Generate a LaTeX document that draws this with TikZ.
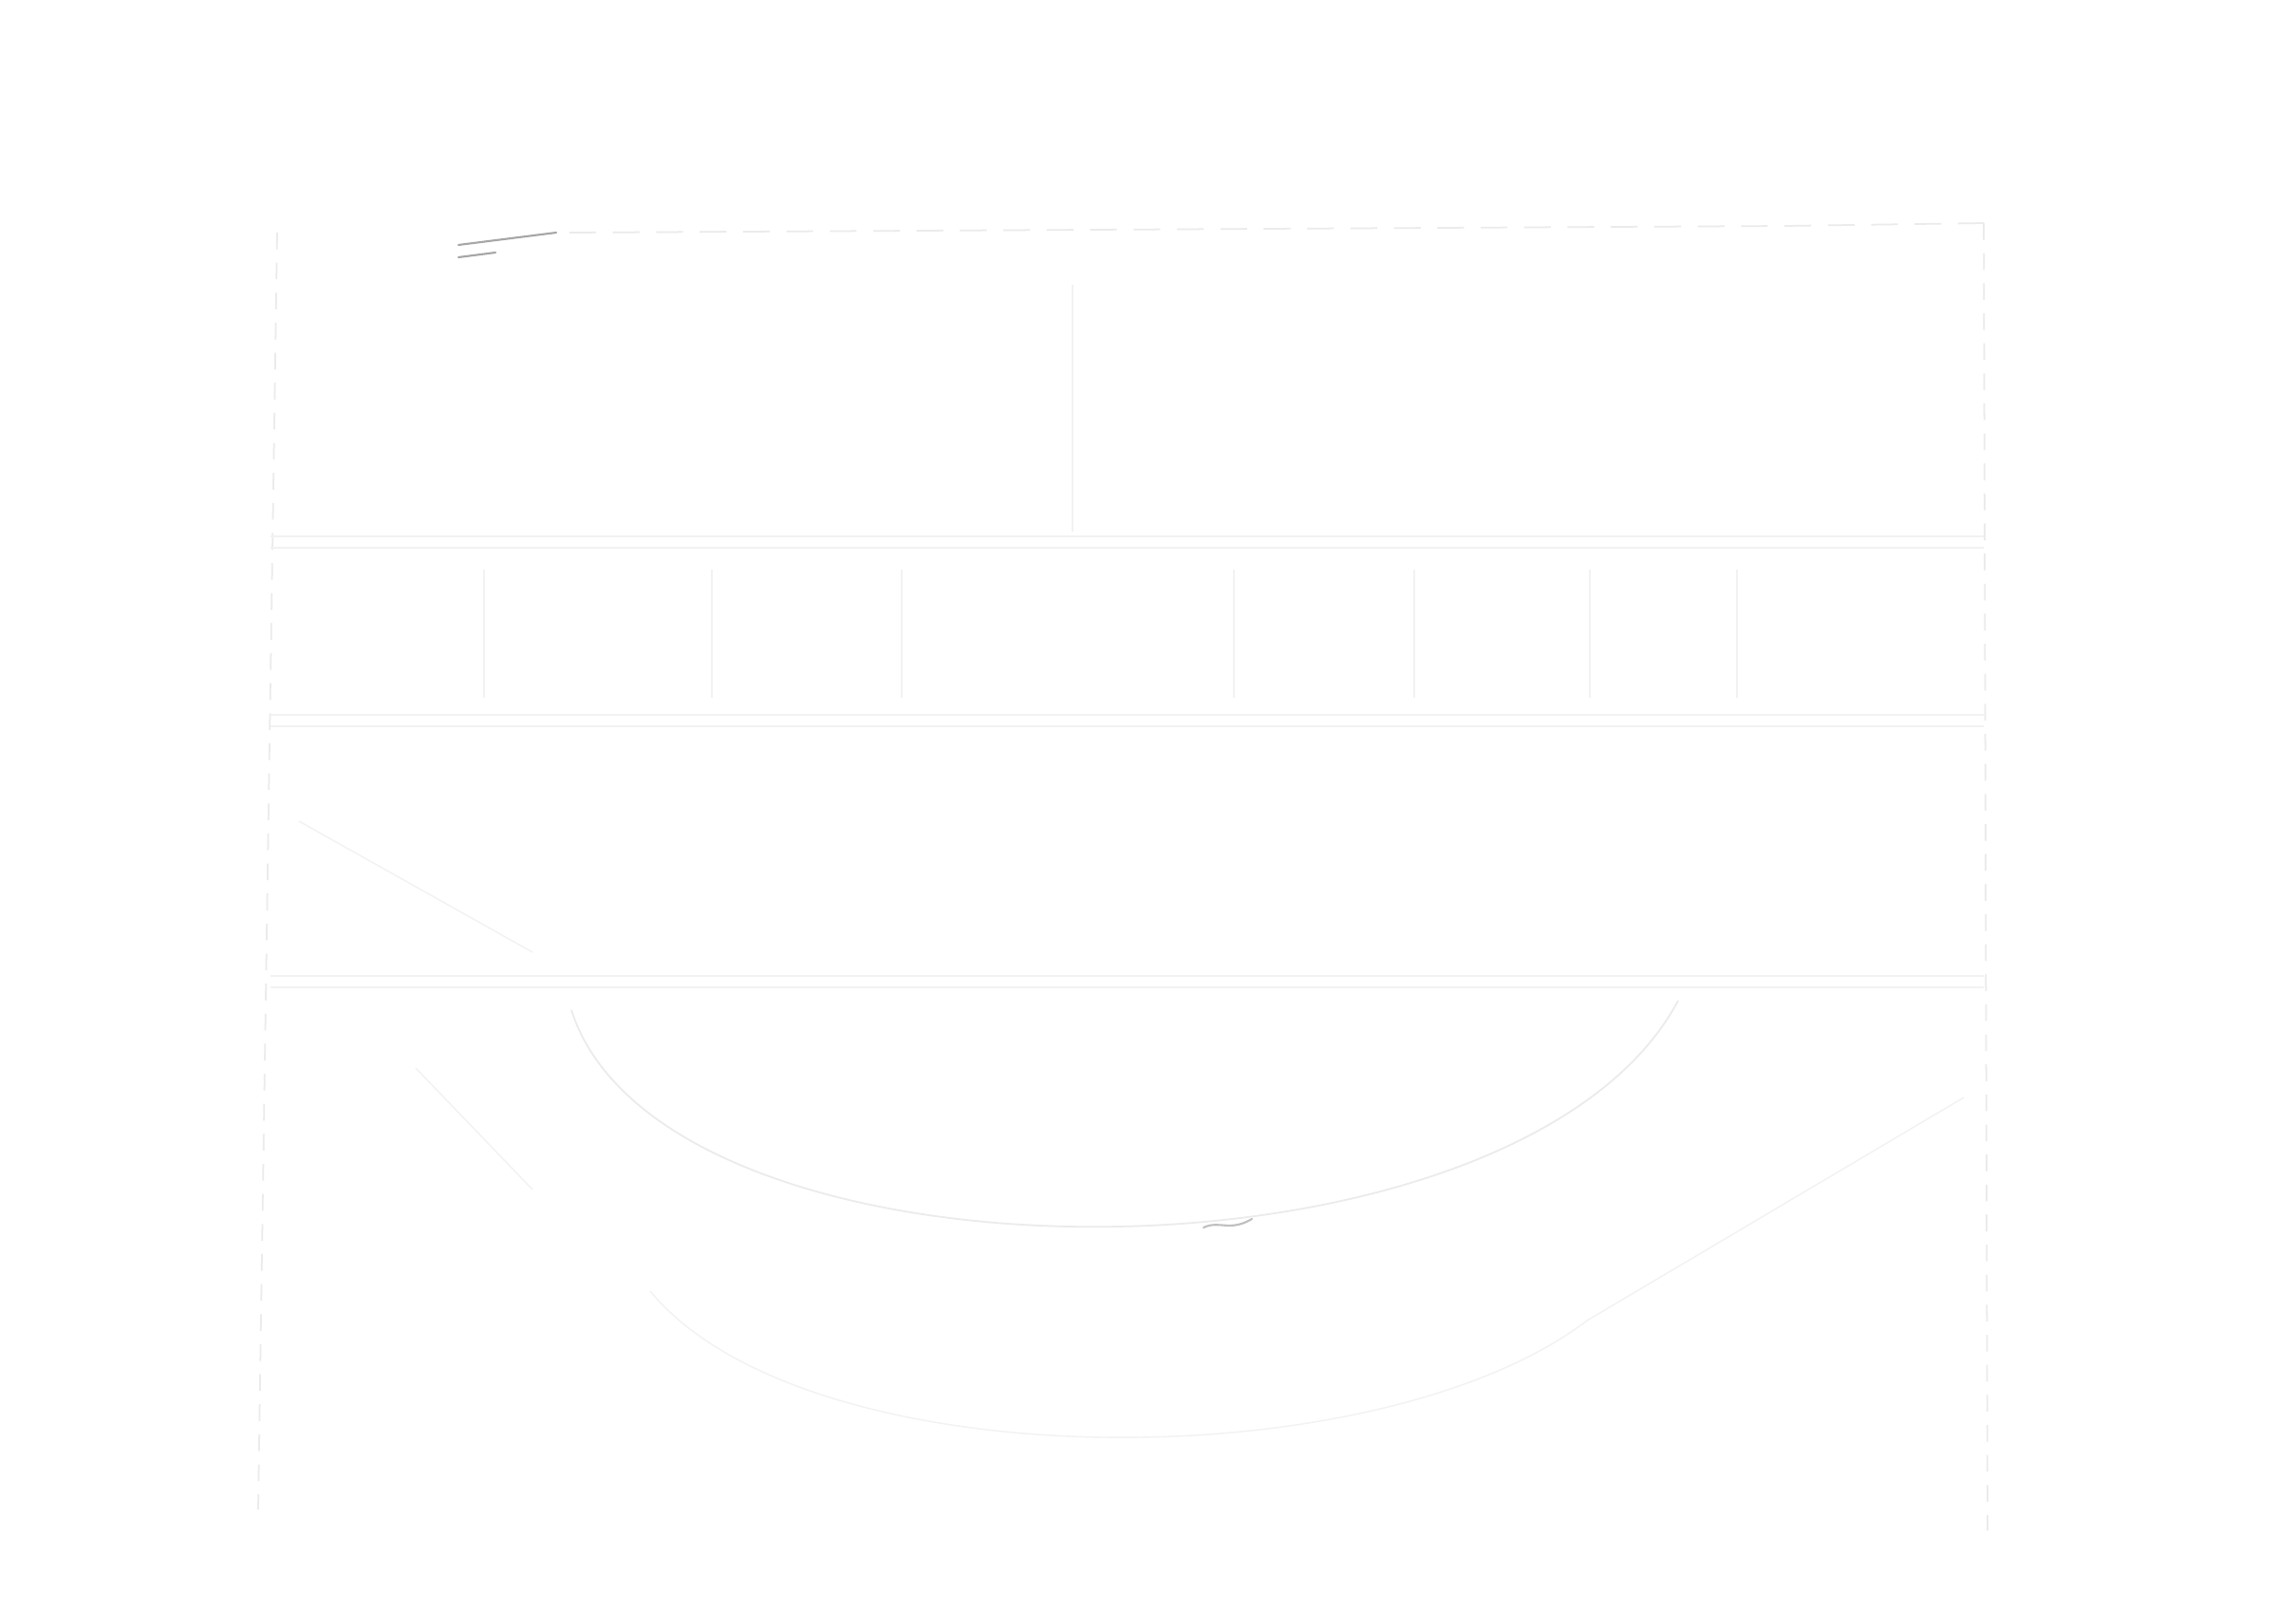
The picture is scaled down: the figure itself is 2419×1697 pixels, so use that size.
\documentclass[tikz,border=0pt]{standalone}
\usetikzlibrary{calc}
\begin{document}
\begin{tikzpicture}[line join=round, x=0.01cm, y=-0.01cm]
\tikzset{faint/.style={draw=black!8, line width=0.5pt},
         trace/.style={draw=black!5, line width=0.4pt},
         pencil/.style={draw=black!35, line width=0.6pt, line cap=round}}
\useasboundingbox[fill=white] (0,0) rectangle (2419,1697);
\coordinate (TL) at (292,245);
\coordinate (TR) at (2090,235);
\coordinate (BL) at (272,1590);
\coordinate (BR) at (2094,1612);
% frame
\draw[faint, dash pattern=on 5pt off 4pt] (TL) -- (BL);
\draw[faint, dash pattern=on 5pt off 4pt] (TR) -- (BR);
% top stroke
\draw[pencil] (483,258) -- (586,245);
\draw[pencil] (483,271) -- (522,266);
\draw[faint, dash pattern=on 8pt off 5pt] (600,245) -- (1880,238) -- (TR);
% bands
\foreach \y in {565,753,1028}
  \draw[trace] (285,\y) -- (2090,\y) (285,\y+12) -- (2090,\y+12);
\foreach \x in {510,750,950,1300,1490,1675,1830}
  \draw[trace] (\x,600) -- (\x,735);
\draw[trace] (1130,300) -- (1130,560);
% bowl
\draw[faint] (602,1064) .. controls (700,1370) and (1600,1370) .. (1768,1054);
\draw[trace] (685,1360) .. controls (850,1560) and (1450,1560) .. (1672,1391) -- (2069,1156);
\draw[trace] (315,865) -- (561,1003);
\draw[trace] (438,1125) -- (561,1253);
\draw[pencil, draw=black!25] (1268,1293) .. controls (1285,1285) and (1295,1298) .. (1319,1284);
\end{tikzpicture}
\end{document}
